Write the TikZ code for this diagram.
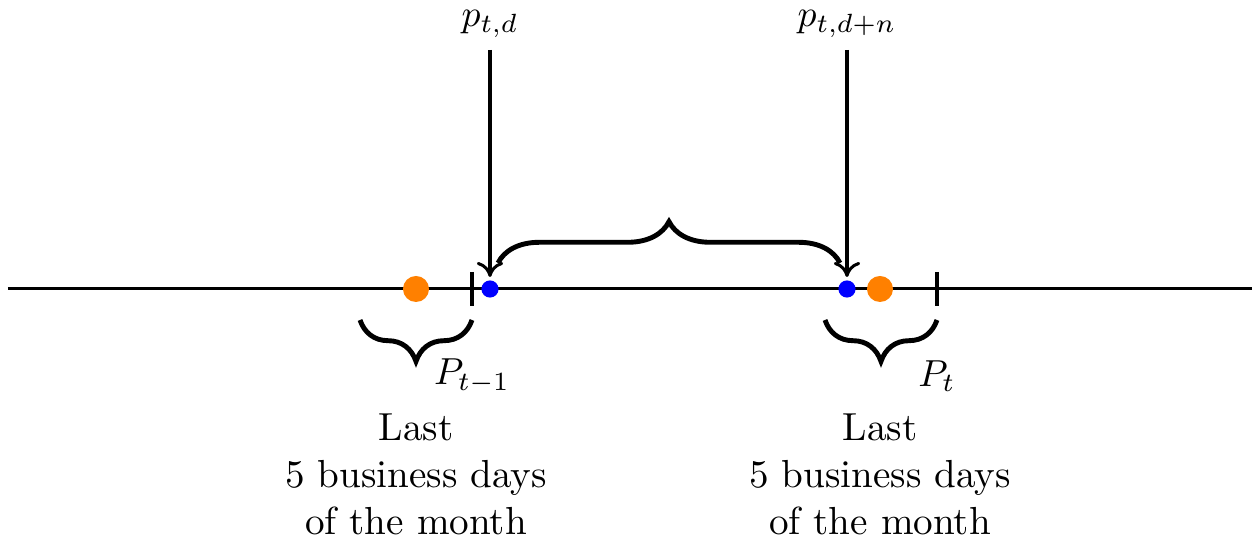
\documentclass[tikz,border=0pt]{standalone}
\usetikzlibrary{decorations.pathreplacing,arrows.meta}
\definecolor{dotorange}{RGB}{255,128,0}
\definecolor{dotblue}{RGB}{0,0,255}
\begin{document}
\begin{tikzpicture}[x=0.009346cm,y=-0.009346cm,
  axisline/.style={line width=0.8pt},
  tickmark/.style={line width=0.8pt},
  orangedot/.style={circle,fill=dotorange,inner sep=0pt,minimum size=0.243cm},
  bluedot/.style={circle,fill=dotblue,inner sep=0pt,minimum size=0.16cm},
  pointer/.style={line width=0.8pt,-{To[length=4pt,width=7pt]}},
  bracedeco/.style={line width=1.3pt,decorate,decoration={brace,amplitude=11pt}},
  lbl/.style={inner sep=0pt},
  caption/.style={align=center,inner sep=0pt,font=\fontsize{10.4}{12.5}\selectfont}]
\useasboundingbox (0,0) rectangle (1252,540);
\coordinate (L) at (8,289);
\coordinate (R) at (1252,289);
\draw[axisline] (L) -- (R);
% ticks
\coordinate (t1a) at (472,272); \coordinate (t1b) at (472,306);
\coordinate (t2a) at (937,272); \coordinate (t2b) at (937,306);
\draw[tickmark] (t1a) -- (t1b);
\draw[tickmark] (t2a) -- (t2b);
% dots
\node[orangedot] (o1) at (416,289) {};
\node[orangedot] (o2) at (880,289) {};
\node[bluedot] (b1) at (490,289) {};
\node[bluedot] (b2) at (847,289) {};
% top labels
\node[lbl] (pd) at (490,24) {$p_{t,d}$};
\node[lbl] (pdn) at (847,24) {$p_{t,d+n}$};
\coordinate (a1) at (490,50);
\coordinate (a2) at (847,50);
\coordinate (e1) at (490,277);
\coordinate (e2) at (847,277);
\draw[pointer] (a1) -- (e1);
\draw[pointer] (a2) -- (e2);
% top brace
\coordinate (tb1) at (498,263);
\coordinate (tb2) at (840,263);
\draw[bracedeco] (tb1) -- (tb2);
% bottom braces
\coordinate (lb1) at (472,320);
\coordinate (lb2) at (360,320);
\draw[bracedeco] (lb1) -- (lb2);
\coordinate (rb1) at (937,320);
\coordinate (rb2) at (825,320);
\draw[bracedeco] (rb1) -- (rb2);
% P labels
\node[lbl] (P1) at (472,376) {$P_{t-1}$};
\node[lbl] (P2) at (937,376) {$P_{t}$};
% captions
\node[caption] (c1) at (416,474) {Last\\5 business days\\of the month};
\node[caption] (c2) at (880,474) {Last\\5 business days\\of the month};
\end{tikzpicture}
\end{document}
